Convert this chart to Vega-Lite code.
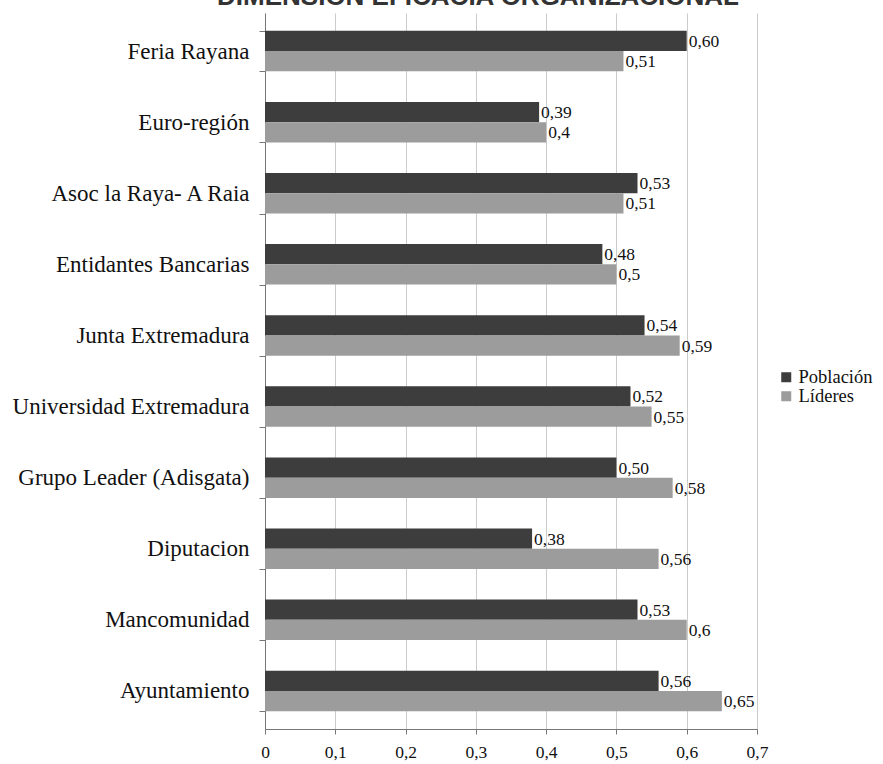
{
  "$schema": "https://vega.github.io/schema/vega-lite/v6.json",
  "width": 492,
  "height": 716,
  "autosize": {"type": "none"},
  "padding": {"left": 265, "top": 13, "right": 126, "bottom": 35},
  "background": "white",
  "title": {
    "text": "DIMENSIÓN EFICACIA ORGANIZACIONAL",
    "font": "Liberation Sans",
    "fontWeight": "bold",
    "fontSize": 26,
    "color": "#333333",
    "anchor": "middle",
    "frame": "group",
    "dx": -33,
    "offset": -8
  },
  "data": {
    "values": [
      {"institucion": "Feria Rayana", "serie": "Población", "valor": 0.60, "etiqueta": "0,60"},
      {"institucion": "Feria Rayana", "serie": "Líderes", "valor": 0.51, "etiqueta": "0,51"},
      {"institucion": "Euro-región", "serie": "Población", "valor": 0.39, "etiqueta": "0,39"},
      {"institucion": "Euro-región", "serie": "Líderes", "valor": 0.40, "etiqueta": "0,4"},
      {"institucion": "Asoc la Raya- A Raia", "serie": "Población", "valor": 0.53, "etiqueta": "0,53"},
      {"institucion": "Asoc la Raya- A Raia", "serie": "Líderes", "valor": 0.51, "etiqueta": "0,51"},
      {"institucion": "Entidantes Bancarias", "serie": "Población", "valor": 0.48, "etiqueta": "0,48"},
      {"institucion": "Entidantes Bancarias", "serie": "Líderes", "valor": 0.50, "etiqueta": "0,5"},
      {"institucion": "Junta Extremadura", "serie": "Población", "valor": 0.54, "etiqueta": "0,54"},
      {"institucion": "Junta Extremadura", "serie": "Líderes", "valor": 0.59, "etiqueta": "0,59"},
      {"institucion": "Universidad Extremadura", "serie": "Población", "valor": 0.52, "etiqueta": "0,52"},
      {"institucion": "Universidad Extremadura", "serie": "Líderes", "valor": 0.55, "etiqueta": "0,55"},
      {"institucion": "Grupo Leader (Adisgata)", "serie": "Población", "valor": 0.50, "etiqueta": "0,50"},
      {"institucion": "Grupo Leader (Adisgata)", "serie": "Líderes", "valor": 0.58, "etiqueta": "0,58"},
      {"institucion": "Diputacion", "serie": "Población", "valor": 0.38, "etiqueta": "0,38"},
      {"institucion": "Diputacion", "serie": "Líderes", "valor": 0.56, "etiqueta": "0,56"},
      {"institucion": "Mancomunidad", "serie": "Población", "valor": 0.53, "etiqueta": "0,53"},
      {"institucion": "Mancomunidad", "serie": "Líderes", "valor": 0.60, "etiqueta": "0,6"},
      {"institucion": "Ayuntamiento", "serie": "Población", "valor": 0.56, "etiqueta": "0,56"},
      {"institucion": "Ayuntamiento", "serie": "Líderes", "valor": 0.65, "etiqueta": "0,65"}
    ]
  },
  "encoding": {
    "y": {
      "field": "institucion",
      "type": "nominal",
      "sort": null,
      "scale": {"paddingInner": 0.43, "paddingOuter": 0.25},
      "axis": {
        "title": null,
        "tickBand": "extent",
        "tickSize": 6,
        "tickColor": "#777777",
        "domainColor": "#777777",
        "labelFont": "Liberation Serif",
        "labelFontSize": 23,
        "labelColor": "#111111",
        "labelPadding": 10,
        "labelLimit": 300
      }
    },
    "yOffset": {
      "field": "serie",
      "type": "nominal",
      "sort": ["Población", "Líderes"]
    },
    "x": {
      "field": "valor",
      "type": "quantitative",
      "scale": {"domain": [0, 0.7], "nice": false},
      "axis": {
        "title": null,
        "values": [0, 0.1, 0.2, 0.3, 0.4, 0.5, 0.6, 0.7],
        "labelExpr": "replace(format(datum.value, '.1~f'), '.', ',')",
        "labelFont": "Liberation Serif",
        "labelFontSize": 17.5,
        "labelColor": "#111111",
        "labelPadding": 9,
        "tickSize": 5,
        "tickColor": "#777777",
        "domainColor": "#777777",
        "grid": true,
        "gridColor": "#cccccc",
        "labelFlush": false
      }
    }
  },
  "layer": [
    {
      "mark": {"type": "bar"},
      "encoding": {
        "color": {
          "field": "serie",
          "type": "nominal",
          "scale": {"domain": ["Población", "Líderes"], "range": ["#3d3d3d", "#9c9c9c"]},
          "legend": {
            "title": null,
            "orient": "none",
            "legendX": 512,
            "legendY": 355,
            "symbolType": "square",
            "symbolSize": 100,
            "symbolStrokeWidth": 0,
            "labelFont": "Liberation Serif",
            "labelFontSize": 18.5,
            "labelColor": "#111111",
            "labelOffset": 3,
            "rowPadding": 0
          }
        }
      }
    },
    {
      "mark": {
        "type": "text",
        "align": "left",
        "baseline": "middle",
        "dx": 2,
        "dy": 1,
        "font": "Liberation Serif",
        "fontSize": 17.5,
        "color": "#111111"
      },
      "encoding": {"text": {"field": "etiqueta"}}
    }
  ],
  "config": {"view": {"stroke": null}}
}
